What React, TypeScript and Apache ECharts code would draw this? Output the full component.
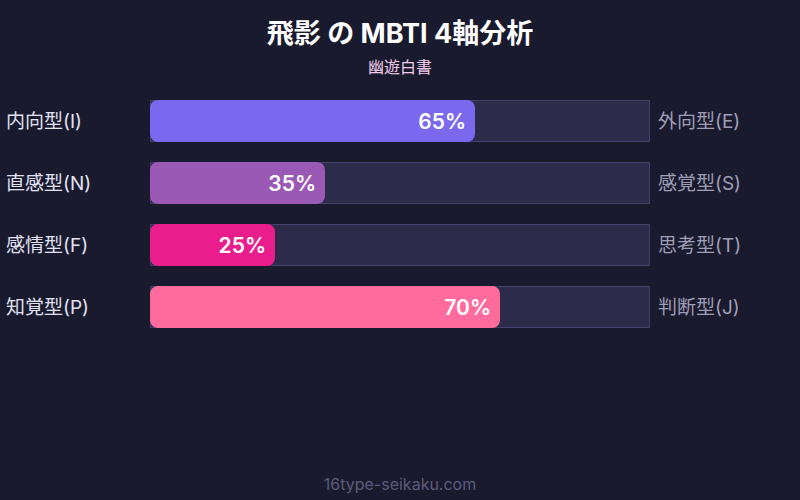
import React, { useEffect, useRef } from "react";
import * as echarts from "echarts";

const leftLabels = ["内向型(I)", "直感型(N)", "感情型(F)", "知覚型(P)"];
const rightLabels = ["外向型(E)", "感覚型(S)", "思考型(T)", "判断型(J)"];
const scores = [65, 35, 25, 70];
const barColors = ["#7b68ee", "#9b59b6", "#e91e8c", "#ff6b9d"];
const fullScale = [100, 100, 100, 100];

const FONT = "Inter, 'Noto Sans CJK JP', sans-serif";

const App = () => {
  const chartRef = useRef<HTMLDivElement>(null);

  useEffect(() => {
    if (!chartRef.current) return;
    const chart = echarts.init(chartRef.current, null, { renderer: "svg" });

    const option = {
      animation: false,
      backgroundColor: "#1a1a2e",
      textStyle: { fontFamily: FONT },
      title: {
        text: "飛影 の MBTI 4軸分析",
        subtext: "幽遊白書",
        left: "center",
        top: 15,
        itemGap: 12,
        textStyle: { color: "#ffffff", fontSize: 27, fontWeight: "bold", fontFamily: FONT },
        subtextStyle: { color: "#f2cdee", fontSize: 16, fontFamily: FONT },
      },
      grid: { left: 150, right: 150, top: 90, height: 248 },
      xAxis: {
        type: "value",
        min: 0,
        max: 100,
        show: false,
      },
      yAxis: [
        {
          type: "category",
          data: leftLabels,
          inverse: true,
          position: "left",
          axisLine: { show: false },
          axisTick: { show: false },
          axisLabel: {
            color: "#e2e2f2",
            fontSize: 19,
            align: "left",
            margin: 144,
            padding: [0, 0, 4, 0],
            fontFamily: FONT,
          },
        },
        {
          type: "category",
          data: rightLabels,
          inverse: true,
          position: "right",
          axisLine: { show: false },
          axisTick: { show: false },
          axisLabel: {
            color: "#9e9eb6",
            fontSize: 19,
            align: "left",
            margin: 8,
            padding: [0, 0, 4, 0],
            fontFamily: FONT,
          },
        },
      ],
      series: [
        {
          type: "bar",
          data: fullScale,
          barWidth: 42,
          barGap: "-100%",
          silent: true,
          itemStyle: { color: "#2d2b4a", borderColor: "#44426a", borderWidth: 1 },
          z: 1,
        },
        {
          type: "bar",
          data: scores.map((v, i) => ({ value: v, itemStyle: { color: barColors[i] } })),
          barWidth: 42,
          itemStyle: { borderRadius: 8 },
          label: {
            show: true,
            position: "insideRight",
            distance: 9,
            formatter: "{c}%",
            color: "#ffffff",
            fontSize: 21,
            fontWeight: 600,
            fontFamily: FONT,
          },
          z: 2,
        },
      ],
      graphic: [
        {
          type: "text",
          left: "center",
          top: 476,
          style: { text: "16type-seikaku.com", fill: "#5c5c7c", fontSize: 16, fontFamily: FONT },
        },
      ],
    };

    chart.setOption(option);
    return () => {
      chart.dispose();
    };
  }, []);

  return (
    <div
      ref={chartRef}
      style={{ position: "absolute", left: 0, top: 0, width: "800px", height: "500px" }}
    ></div>
  );
};

export default App;
